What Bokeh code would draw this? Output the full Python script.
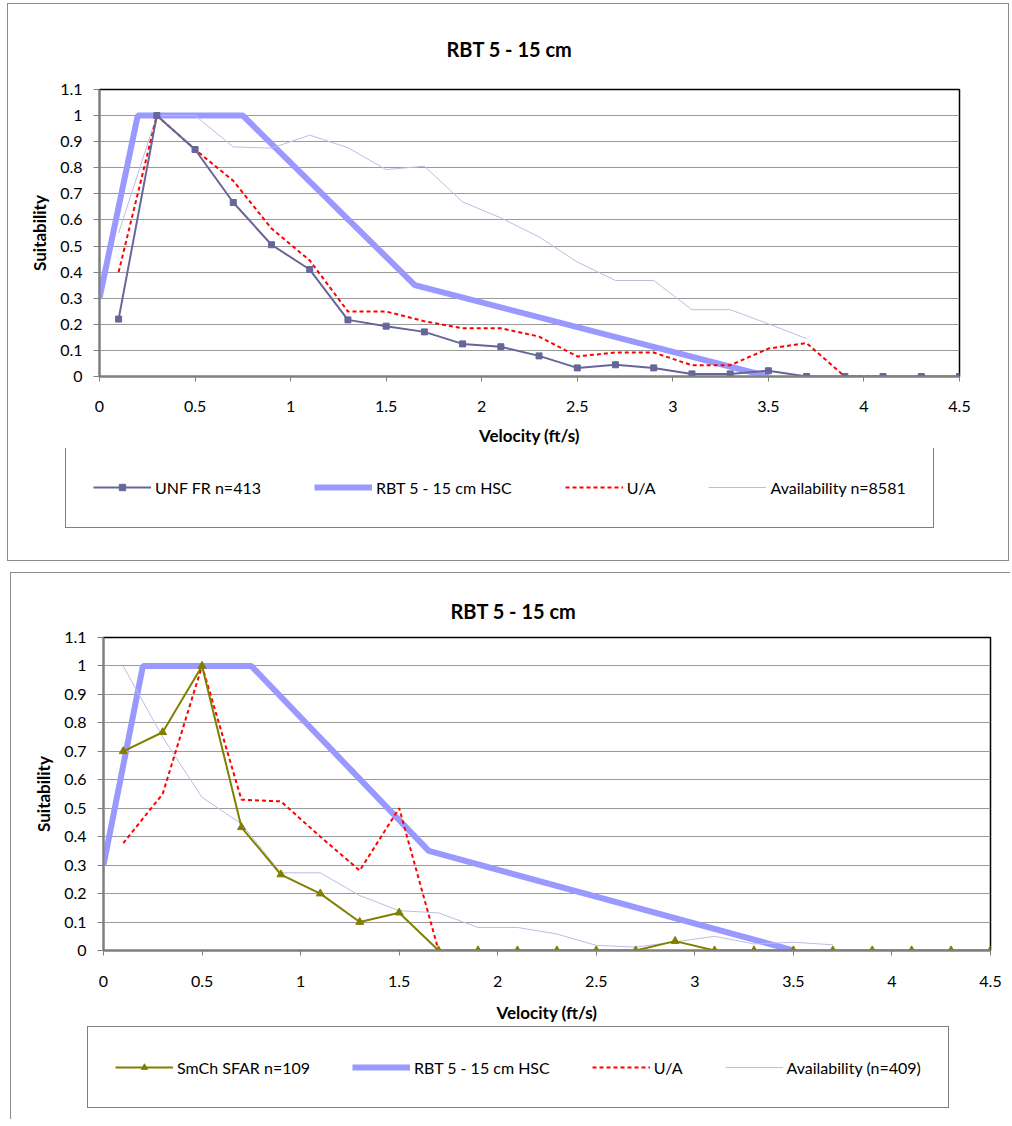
from bokeh.plotting import figure
from bokeh.models import (Range1d, FixedTicker, NumeralTickFormatter, Legend, LegendItem)
from bokeh.layouts import column
from bokeh.embed import file_html
from bokeh.resources import INLINE

# ---------------- data ----------------
velocity = [0.1, 0.3, 0.5, 0.7, 0.9, 1.1, 1.3, 1.5, 1.7, 1.9, 2.1, 2.3,
            2.5, 2.7, 2.9, 3.1, 3.3, 3.5, 3.7, 3.9, 4.1, 4.3, 4.5]

hsc_velocity = [0, 0.2, 0.75, 1.65, 3.5]
hsc_suitability = [0.3, 1.0, 1.0, 0.35, 0.0]

# top chart
unf_fr = [0.22, 1.0, 0.87, 0.667, 0.505, 0.41, 0.217, 0.193, 0.171, 0.125, 0.114, 0.079,
          0.033, 0.045, 0.033, 0.010, 0.010, 0.022, 0.0, 0.0, 0.0, 0.0, 0.0]
top_ua = [0.40, 1.0, 0.87, 0.75, 0.567, 0.445, 0.249, 0.249, 0.212, 0.185, 0.185, 0.153,
          0.077, 0.092, 0.092, 0.043, 0.043, 0.107, 0.128, 0.0, 0.0]
top_availability = [0.55, 1.0, 1.0, 0.88, 0.875, 0.925, 0.877, 0.793, 0.806, 0.669, 0.608,
                    0.535, 0.439, 0.368, 0.368, 0.256, 0.256, 0.202, 0.145]

# bottom chart
smch_sfar = [0.70, 0.767, 1.0, 0.433, 0.267, 0.2, 0.1, 0.133, 0.0, 0.0, 0.0, 0.0,
             0.0, 0.0, 0.033, 0.0, 0.0, 0.0, 0.0, 0.0, 0.0, 0.0, 0.0]
bottom_ua = [0.377, 0.55, 1.0, 0.53, 0.524, 0.40, 0.281, 0.50, 0.0]
bottom_availability = [1.0, 0.75, 0.538, 0.445, 0.273, 0.273, 0.193, 0.14, 0.132, 0.081,
                       0.081, 0.058, 0.018, 0.012, 0.03, 0.05, 0.023, 0.029, 0.02]

y_ticks = [0, 0.1, 0.2, 0.3, 0.4, 0.5, 0.6, 0.7, 0.8, 0.9, 1.0, 1.1]
x_ticks = [0, 0.5, 1.0, 1.5, 2.0, 2.5, 3.0, 3.5, 4.0, 4.5]

chart_title = "RBT 5 - 15 cm"
x_label = "Velocity (ft/s)"
y_label = "Suitability"
hsc_label = "RBT 5 - 15 cm HSC"
ua_label = "U/A"

FONT = "Lato"
BOX = "1px solid #8c8c8c"

HSC_STYLE = dict(line_color="#9999FF", line_width=6)
AV_STYLE = dict(line_color="#bdbde3", line_width=1)
UA_STYLE = dict(line_color="#FF0000", line_width=2, line_dash="4 3")


def add_series(p, main_vals, main_color, main_marker, main_size, ua_vals, av_vals):
    r_hsc = p.line(hsc_velocity, hsc_suitability, **HSC_STYLE)
    r_av = p.line(velocity[:len(av_vals)], av_vals, **AV_STYLE)
    r_ua = p.line(velocity[:len(ua_vals)], ua_vals, **UA_STYLE)
    r_main = p.line(velocity, main_vals, line_color=main_color, line_width=2)
    r_mk = p.scatter(velocity, main_vals, marker=main_marker, size=main_size,
                     fill_color=main_color, line_color=main_color)
    return r_main, r_mk, r_hsc, r_ua, r_av


def make_chart(width, height, borders, margin, styles, series, title_cfg, x_stand):
    bl, br, bt, bb = borders
    p = figure(width=width, height=height, output_backend="svg", toolbar_location=None,
               x_range=Range1d(0, 4.5), y_range=Range1d(0, 1.1),
               min_border_left=bl, min_border_right=br, min_border_top=bt,
               min_border_bottom=bb, background_fill_color="white",
               border_fill_color="white", margin=margin, title=chart_title)
    p.frame_align = False
    p.styles = styles
    p.outline_line_color = "black"
    p.outline_line_width = 1.5

    t_off, t_stand = title_cfg
    p.title.align = "left"
    p.title.offset = t_off
    p.title.standoff = t_stand
    p.title.text_font = FONT
    p.title.text_font_style = "bold"
    p.title.text_font_size = "20px"
    p.title.text_color = "black"

    p.xaxis.ticker = FixedTicker(ticks=x_ticks)
    p.yaxis.ticker = FixedTicker(ticks=y_ticks)
    p.xaxis.formatter = NumeralTickFormatter(format="0.[0]")
    p.yaxis.formatter = NumeralTickFormatter(format="0.[0]")
    for ax in (p.xaxis, p.yaxis):
        ax.axis_line_color = "#7f7f7f"
        ax.axis_line_width = 2
        ax.major_tick_line_color = "#7f7f7f"
        ax.major_tick_in = 0
        ax.minor_tick_line_color = None
        ax.major_label_text_font = FONT
        ax.major_label_text_font_size = "16px"
        ax.major_label_text_color = "black"
        ax.axis_label_text_font = FONT
        ax.axis_label_text_font_style = "bold"
        ax.axis_label_text_font_size = "17px"
        ax.axis_label_text_color = "black"
    p.xaxis.major_tick_out = 5
    p.yaxis.major_tick_out = 6
    p.xaxis.major_label_standoff = x_stand[0]
    p.yaxis.major_label_standoff = 11
    p.xaxis.axis_label = x_label
    p.yaxis.axis_label = y_label
    p.xaxis.axis_label_standoff = x_stand[1]
    p.yaxis.axis_label_standoff = 7

    p.xgrid.grid_line_color = None
    p.ygrid.grid_line_color = "#9a9a9a"
    p.ygrid.grid_line_width = 1

    add_series(p, *series)
    return p


def make_legend(width, height, margin, styles, series, main_label, av_label, loc, pad,
                spacing):
    # separate legend panel; its series sit outside its (hidden) ranges so only the
    # legend swatches show
    f = figure(width=width, height=height, output_backend="svg", toolbar_location=None,
               x_range=Range1d(10, 11), y_range=Range1d(10, 11),
               x_axis_location=None, y_axis_location=None,
               min_border_left=0, min_border_right=0, min_border_top=0,
               min_border_bottom=0, margin=margin, background_fill_color="white",
               border_fill_color="white")
    f.frame_align = False
    f.styles = styles
    f.outline_line_color = None
    f.xgrid.grid_line_color = None
    f.ygrid.grid_line_color = None
    r_main, r_mk, r_hsc, r_ua, r_av = add_series(f, *series)
    items = [LegendItem(label=main_label, renderers=[r_main, r_mk]),
             LegendItem(label=hsc_label, renderers=[r_hsc]),
             LegendItem(label=ua_label, renderers=[r_ua]),
             LegendItem(label=av_label, renderers=[r_av])]
    leg = Legend(items=items, location=loc, orientation="horizontal",
                 padding=pad, spacing=spacing, margin=0, glyph_width=58, glyph_height=16,
                 label_height=26, label_standoff=4, label_text_font=FONT,
                 label_text_font_size="16px", label_text_color="black",
                 border_line_color="black", border_line_width=1.5,
                 background_fill_color="white", background_fill_alpha=1)
    f.add_layout(leg, "center")
    return f


top_series = (unf_fr, "#666699", "square", 6, top_ua, top_availability)
bottom_series = (smch_sfar, "#808000", "triangle", 8, bottom_ua, bottom_availability)

top = make_chart(1002, 445, (91, 51, 85, 73), (3, 0, 0, 7),
                 {"border-left": BOX, "border-right": BOX, "border-top": BOX},
                 top_series, (347, 58), (19, 10))
top_leg = make_legend(1002, 113, (0, 0, 0, 7),
                      {"border-left": BOX, "border-right": BOX, "border-bottom": BOX},
                      top_series, "UNF FR n=413", "Availability n=8581",
                      (57, 33), 27, 53)

bottom = make_chart(1000, 453, (92, 21, 64, 76), (11, 0, 0, 10),
                    {"border-left": BOX, "border-top": BOX},
                    bottom_series, (347, 30), (20, 12))
bottom_leg = make_legend(1000, 94, (0, 0, 0, 10), {"border-left": BOX},
                         bottom_series, "SmCh SFAR n=109", "Availability (n=409)",
                         (76, 11), 27, 42)

layout = column(top, top_leg, bottom, bottom_leg, spacing=0)
open("out.html", "w").write(file_html(layout, INLINE))
